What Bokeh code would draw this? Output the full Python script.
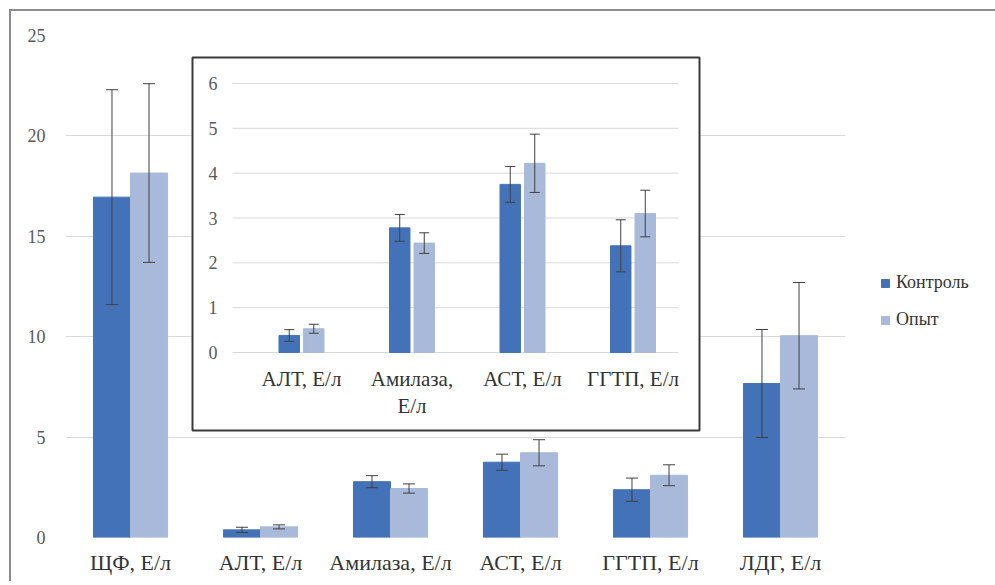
from bokeh.plotting import figure
from bokeh.models import Range1d, ColumnDataSource, Legend, LegendItem, FixedTicker
from bokeh.transform import dodge
from bokeh.core.properties import value
from bokeh.embed import file_html
from bokeh.resources import INLINE

# ---------------- data ----------------
categories = ["ЩФ, Е/л", "АЛТ, Е/л", "Амилаза, Е/л", "АСТ, Е/л", "ГГТП, Е/л", "ЛДГ, Е/л"]
control = [16.95, 0.38, 2.78, 3.75, 2.38, 7.67]
control_err = [5.35, 0.13, 0.30, 0.40, 0.58, 2.69]
experiment = [18.15, 0.53, 2.44, 4.22, 3.10, 10.05]
experiment_err = [4.45, 0.10, 0.23, 0.65, 0.52, 2.65]
y_ticks = [0, 5, 10, 15, 20, 25]

inset_categories = ["АЛТ, Е/л", "Амилаза,\nЕ/л", "АСТ, Е/л", "ГГТП, Е/л"]
inset_control = control[1:5]
inset_control_err = control_err[1:5]
inset_experiment = experiment[1:5]
inset_experiment_err = experiment_err[1:5]
inset_ticks = [0, 1, 2, 3, 4, 5, 6]

series_names = ["Контроль", "Опыт"]

# ---------------- style / layout ----------------
C1 = "#4472b8"
C2 = "#a8b9da"
ERR = "#404040"
GRID = "#d9d9d9"
TXT = "#333333"
FONT = "'Liberation Serif'"

OFF = 11                      # page offset of figure content (margin + border)
W, H = 980, 570
FR_L, FR_R, FR_T, FR_B = 65, 845, 35, 537   # main frame (page px)
INS_X0, INS_DX = 301, 110.5   # inset first category centre / spacing (page px)
INS_Y0, INS_Y6 = 352, 83      # inset 0 and 6 levels (page px)
BOX_L, BOX_R, BOX_T, BOX_B = 192, 699, 57, 430
IG_L, IG_R = 232, 678
LEG_L, LEG_T, LEG_H = 880, 274, 56

ins_ppu = (INS_Y0 - INS_Y6) / 6.0


def ix(px):
    return (px - INS_X0) / INS_DX


def iy(py):
    return (INS_Y0 - py) / ins_ppu


BW = 0.285   # main bar width
IBW = 0.185  # inset bar width
IOFF = 0.111

n = len(categories)
p = figure(
    x_range=Range1d(0, n), y_range=Range1d(0, 25),
    frame_width=FR_R - FR_L, frame_height=FR_B - FR_T,
    min_border_left=FR_L - OFF, min_border_top=FR_T - OFF,
    min_border_right=W - (FR_R - OFF), min_border_bottom=H - (FR_B - OFF),
    output_backend="svg", toolbar_location=None, tools="",
)
p.styles = {"margin-left": "9px", "margin-top": "9px",
            "border-top": "2px solid #8c8c8c", "border-left": "2px solid #8c8c8c"}
p.extra_x_ranges = {"ix": Range1d(ix(FR_L), ix(FR_R))}
p.extra_y_ranges = {"iy": Range1d(iy(FR_B), iy(FR_T))}

p.outline_line_color = None
p.background_fill_color = "white"
p.border_fill_color = "white"
p.xgrid.grid_line_color = None
p.ygrid.grid_line_color = GRID
p.ygrid.ticker = y_ticks

p.yaxis.ticker = y_ticks
p.yaxis.axis_line_color = None
p.yaxis.major_tick_line_color = None
p.yaxis.minor_tick_line_color = None
p.yaxis.major_label_standoff = 14
p.yaxis.major_label_text_font = FONT
p.yaxis.major_label_text_font_size = "18px"
p.yaxis.major_label_text_color = "#595959"

xpos = [i + 0.5 for i in range(n)]
p.xaxis.ticker = FixedTicker(ticks=xpos)
p.xaxis.major_label_overrides = {x: c for x, c in zip(xpos, categories)}
p.xaxis.axis_line_color = None
p.xaxis.major_tick_line_color = None
p.xaxis.minor_tick_line_color = None
p.xaxis.major_label_standoff = 6
p.xaxis.major_label_text_font = FONT
p.xaxis.major_label_text_font_size = "22px"
p.xaxis.major_label_text_color = TXT

src = ColumnDataSource(dict(
    x=xpos,
    c=control, c_lo=[v - e for v, e in zip(control, control_err)], c_hi=[v + e for v, e in zip(control, control_err)],
    e=experiment, e_lo=[v - e for v, e in zip(experiment, experiment_err)], e_hi=[v + e for v, e in zip(experiment, experiment_err)],
))

xc = dodge("x", -BW / 2)
xe = dodge("x", BW / 2)
r1 = p.vbar(x=xc, top="c", width=BW, source=src, fill_color=C1, line_color=C1)
r2 = p.vbar(x=xe, top="e", width=BW, source=src, fill_color=C2, line_color=C2)
for xx, lo, hi in [(xc, "c_lo", "c_hi"), (xe, "e_lo", "e_hi")]:
    p.segment(x0=xx, x1=xx, y0=lo, y1=hi, source=src, line_color=ERR, line_width=1)
    p.scatter(x=xx, y=hi, marker="dash", size=12, source=src, line_color=ERR, line_width=1)
    p.scatter(x=xx, y=lo, marker="dash", size=12, source=src, line_color=ERR, line_width=1)

# ---------------- inset ----------------
kw = dict(x_range_name="ix", y_range_name="iy")
p.quad(left=[ix(BOX_L)], right=[ix(BOX_R)], top=[iy(BOX_T)], bottom=[iy(BOX_B)],
       fill_color="white", line_color="#3a3a3a", line_width=2, **kw)
p.segment(x0=[ix(IG_L)] * len(inset_ticks), x1=[ix(IG_R)] * len(inset_ticks),
          y0=inset_ticks, y1=inset_ticks, line_color=GRID, line_width=1, **kw)
p.text(x=[ix(IG_L)] * len(inset_ticks), y=inset_ticks, text=[str(t) for t in inset_ticks],
       x_offset=-15, text_align="right", text_baseline="middle",
       text_font=value(FONT), text_font_size="18px", text_color="#595959", **kw)

isrc = ColumnDataSource(dict(
    i=list(range(len(inset_categories))), lab=inset_categories,
    c=inset_control, c_lo=[v - e for v, e in zip(inset_control, inset_control_err)],
    c_hi=[v + e for v, e in zip(inset_control, inset_control_err)],
    e=inset_experiment, e_lo=[v - e for v, e in zip(inset_experiment, inset_experiment_err)],
    e_hi=[v + e for v, e in zip(inset_experiment, inset_experiment_err)],
    zero=[0] * len(inset_categories),
))
ixc = dodge("i", -IOFF)
ixe = dodge("i", IOFF)
p.vbar(x=ixc, top="c", width=IBW, source=isrc, fill_color=C1, line_color=C1, **kw)
p.vbar(x=ixe, top="e", width=IBW, source=isrc, fill_color=C2, line_color=C2, **kw)
for xx, lo, hi in [(ixc, "c_lo", "c_hi"), (ixe, "e_lo", "e_hi")]:
    p.segment(x0=xx, x1=xx, y0=lo, y1=hi, source=isrc, line_color=ERR, line_width=1, **kw)
    p.scatter(x=xx, y=hi, marker="dash", size=10, source=isrc, line_color=ERR, line_width=1, **kw)
    p.scatter(x=xx, y=lo, marker="dash", size=10, source=isrc, line_color=ERR, line_width=1, **kw)
p.text(x="i", y="zero", text="lab", source=isrc, y_offset=14, text_align="center", text_baseline="top",
       text_font=value(FONT), text_font_size="21px", text_color=TXT, text_line_height=1.15, **kw)

# ---------------- legend ----------------
legend = Legend(items=[LegendItem(label=series_names[0], renderers=[r1]),
                       LegendItem(label=series_names[1], renderers=[r2])],
                location=(LEG_L - FR_R, FR_B - (LEG_T + LEG_H)))
legend.padding = 0
legend.margin = 0
legend.border_line_color = None
legend.background_fill_alpha = 0
legend.glyph_width = 10
legend.glyph_height = 10
legend.label_height = 20
legend.spacing = 16
legend.label_standoff = 6
legend.label_text_font = FONT
legend.label_text_font_size = "18px"
legend.label_text_color = TXT
p.add_layout(legend, "right")

open("out.html", "w").write(file_html(p, INLINE))
